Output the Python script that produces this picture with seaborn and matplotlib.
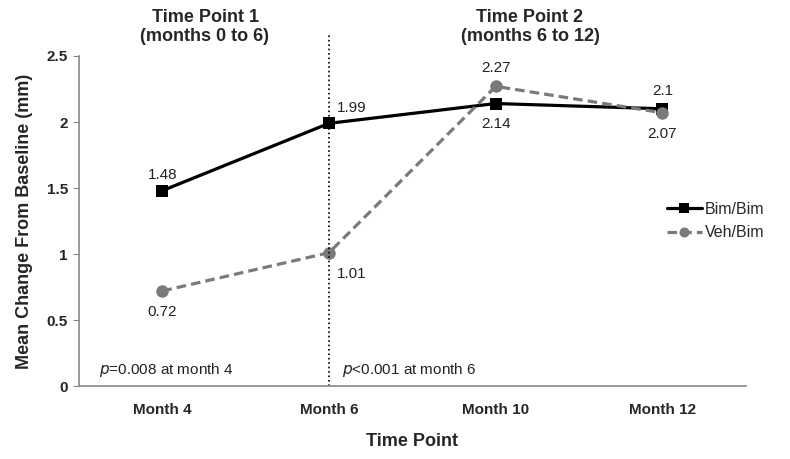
import pandas as pd, numpy as np
import matplotlib
matplotlib.use('Agg')
import matplotlib.pyplot as plt
import seaborn as sns

# values
time_points = ['Month 4', 'Month 6', 'Month 10', 'Month 12']
bim_bim = [1.48, 1.99, 2.14, 2.10]
veh_bim = [0.72, 1.01, 2.27, 2.07]
bim_labels = ['1.48', '1.99', '2.14', '2.1']
veh_labels = ['0.72', '1.01', '2.27', '2.07']
groups = ['Bim/Bim', 'Veh/Bim']

df = pd.DataFrame({
    'Time Point': time_points * 2,
    'Change': bim_bim + veh_bim,
    'Group': [groups[0]] * 4 + [groups[1]] * 4,
})

sns.set_style("white")
plt.rcParams['font.family'] = ['Liberation Sans', 'DejaVu Sans']

fig = plt.figure(figsize=(7.9, 4.59), dpi=100)
ax = fig.add_axes([0.1, 0.159, 0.844, 0.719])

sns.lineplot(data=df, x='Time Point', y='Change', hue='Group', style='Group',
             palette={'Bim/Bim': 'black', 'Veh/Bim': '#7a7a7a'},
             markers={'Bim/Bim': 's', 'Veh/Bim': 'o'},
             dashes={'Bim/Bim': '', 'Veh/Bim': (3, 1.6)},
             markersize=9, linewidth=2.3, markeredgewidth=0, sort=False, ax=ax)

ax.set_xlim(-0.5, 3.5)
ax.set_ylim(0, 2.5)
ax.set_yticks([0, 0.5, 1, 1.5, 2, 2.5])
ax.set_yticklabels(['0', '0.5', '1', '1.5', '2', '2.5'], fontweight='bold', fontsize=11)
ax.set_xticks(range(4))
ax.set_xticklabels(time_points, fontweight='bold', fontsize=11)
ax.set_xticks([3.5], minor=True)
ax.tick_params(axis='x', which='both', direction='in', length=4, color='#888888', pad=12)
ax.tick_params(axis='y', direction='out', length=4, color='#888888', left=True, pad=4)

for side in ['top', 'right']:
    ax.spines[side].set_visible(False)
for side in ['left', 'bottom']:
    ax.spines[side].set_color('#888888')
    ax.spines[side].set_linewidth(1.2)

ax.set_xlabel('Time Point', fontweight='bold', fontsize=13, labelpad=12)
ax.set_ylabel('Mean Change From Baseline (mm)', fontweight='bold', fontsize=13, labelpad=10)

# dotted divider at month 6, running above the plot area
ax.axvline(1, ymin=0, ymax=1.07, color='black', linestyle=':', linewidth=1.2, clip_on=False)

# value labels
bim_offsets = [(0, 11), (16, 11), (0, -15), (0, 13)]
veh_offsets = [(0, -15), (16, -15), (0, 13), (0, -15)]
for i in range(4):
    ax.annotate(bim_labels[i], (i, bim_bim[i]), xytext=bim_offsets[i], textcoords='offset points',
                ha='center', va='center', fontsize=11, color='#222222')
    ax.annotate(veh_labels[i], (i, veh_bim[i]), xytext=veh_offsets[i], textcoords='offset points',
                ha='center', va='center', fontsize=11, color='#222222')

ax.text(-0.38, 0.055, r'$\it{p}$=0.008 at month 4', fontsize=11, color='#222222', va='bottom')
ax.text(1.08, 0.055, r'$\it{p}$<0.001 at month 6', fontsize=11, color='#222222', va='bottom')

# period headers
fig.text(205 / 790, 1 - 27 / 459, 'Time Point 1\n(months 0 to 6)', ha='center', va='center',
         fontweight='bold', fontsize=13, linespacing=1.2)
fig.text(530 / 790, 1 - 27 / 459, 'Time Point 2\n(months 6 to 12)', ha='center', va='center',
         fontweight='bold', fontsize=13, linespacing=1.2)

leg = ax.legend(loc='center left', bbox_to_anchor=(0.86, 0.5), frameon=False, fontsize=11.5,
                handlelength=2.2, handletextpad=0.2, labelspacing=0.55, markerscale=0.8)

fig.savefig('out.png', dpi=100)
